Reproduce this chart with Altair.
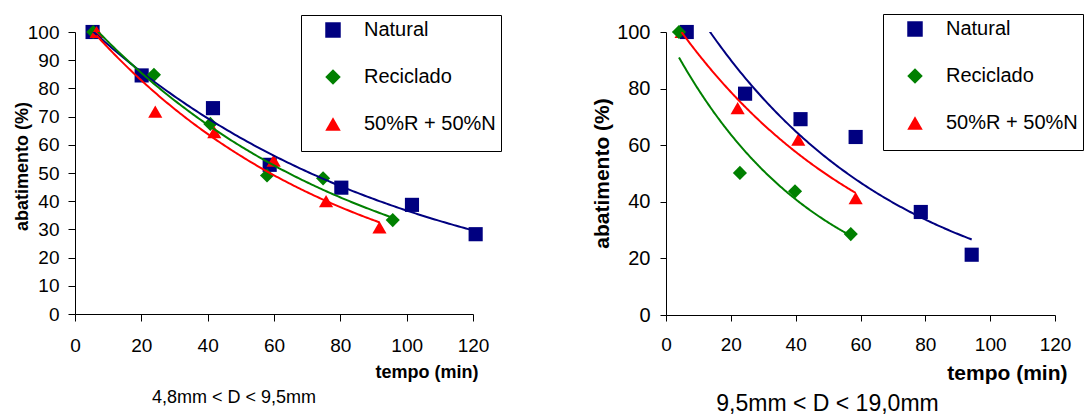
import numpy as np
import pandas as pd
import altair as alt

SERIES = ["Natural", "Reciclado", "50%R + 50%N"]
COLORS = ["#000080", "#008000", "#FF0000"]
SHAPES = ["square", "diamond", "triangle-up"]
X_TICKS = [0, 20, 40, 60, 80, 100, 120]
Y_TICKS_LEFT = [0, 10, 20, 30, 40, 50, 60, 70, 80, 90, 100]
Y_TICKS_RIGHT = [0, 20, 40, 60, 80, 100]
CAPTION_LEFT = "4,8mm < D < 9,5mm"
CAPTION_RIGHT = "9,5mm < D < 19,0mm"

# Left panel (4,8mm < D < 9,5mm)
L_NAT_T = [5.3, 20.1, 41.6, 58.7, 80.3, 101.6, 120.8]
L_NAT_A = [100, 84.6, 73.0, 52.9, 44.8, 38.7, 28.3]
L_REC_T = [5.5, 23.8, 40.8, 57.9, 74.8, 95.8]
L_REC_A = [100, 84.8, 67.4, 49.1, 48.1, 33.3]
L_MIX_T = [6.5, 24.2, 42.0, 59.9, 75.7, 91.8]
L_MIX_A = [100, 71.8, 64.5, 54.4, 40.0, 30.7]

# Right panel (9,5mm < D < 19,0mm)
R_NAT_T = [6.4, 24.4, 41.5, 58.5, 78.6, 94.3]
R_NAT_A = [100, 78.2, 69.2, 62.9, 36.4, 21.3]
R_REC_T = [4.0, 22.8, 39.8, 57.0]
R_REC_A = [100, 50.2, 43.7, 28.6]
R_MIX_T = [4.8, 22.1, 40.8, 58.5]
R_MIX_A = [100, 73.1, 62.0, 41.3]

FONT = "Liberation Sans, Arial, sans-serif"


def build_frames(groups):
    pts, crv = [], []
    for name, t, a in groups:
        for ti, ai in zip(t, a):
            pts.append({"serie": name, "t": ti, "a": ai})
        # Excel-style exponential trendline (least squares on ln(a))
        b, c = np.polyfit(np.array(t, float), np.log(np.array(a, float)), 1)
        for x in np.linspace(min(t), max(t), 160):
            crv.append({"serie": name, "t": float(x), "a": float(np.exp(c + b * x))})
    return pd.DataFrame(pts), pd.DataFrame(crv)


def panel(groups, y_ticks, s):
    pts, crv = build_frames(groups)
    xs = alt.Scale(domain=[0, 120], nice=False)
    ys = alt.Scale(domain=[0, 100], nice=False)
    xaxis = alt.Axis(values=X_TICKS, title="tempo (min)", grid=False,
                     labelFontSize=s["xlab"], titleFontSize=s["title"],
                     tickSize=s["tick"], labelPadding=s["xpad"],
                     labelFlush=False, labelOverlap=False,
                     titleAlign="right", titleBaseline="alphabetic",
                     titleX=s["w"] + s["xtx"], titleY=s["xty"],
                     labelFont=FONT, titleFont=FONT, titleFontWeight="bold",
                     domainColor="black", tickColor="black",
                     labelColor="black", titleColor="black")
    yaxis = alt.Axis(values=y_ticks, tickCount=len(y_ticks), title="abatimento (%)",
                     grid=False,
                     labelFontSize=s["ylab"], titleFontSize=s["title"],
                     tickSize=s["tick"], labelPadding=s["ypad"],
                     labelOverlap=False,
                     titleAlign="center", titleBaseline="middle", titleAngle=270,
                     titleX=s["ytx"], titleY=s["yty"],
                     labelFont=FONT, titleFont=FONT, titleFontWeight="bold",
                     domainColor="black", tickColor="black",
                     labelColor="black", titleColor="black")
    legend = alt.Legend(orient="none", legendX=s["lx"], legendY=s["ly"], title=" ",
                        titleOrient="bottom", titleFontSize=12, titlePadding=1,
                        padding=5, symbolOffset=17, labelOffset=21, rowPadding=27,
                        symbolSize=240, symbolStrokeWidth=0,
                        labelFontSize=20, labelFont=FONT, labelColor="black",
                        strokeColor="black", fillColor="white")
    order = s["order"]
    pts["o"] = pts["serie"].map({k: i for i, k in enumerate(order)})
    pts = pts.sort_values("o", kind="stable")
    points = alt.Chart(pts).mark_point(filled=True, opacity=1, size=200).encode(
        x=alt.X("t:Q", scale=xs, axis=xaxis),
        y=alt.Y("a:Q", scale=ys, axis=yaxis),
        color=alt.Color("serie:N", scale=alt.Scale(domain=SERIES, range=COLORS),
                        legend=legend, sort=SERIES),
        shape=alt.Shape("serie:N", scale=alt.Scale(domain=SERIES, range=SHAPES),
                        legend=legend, sort=SERIES),
    )
    lines = alt.Chart(crv).mark_line(clip=True, strokeWidth=2).encode(
        x=alt.X("t:Q", scale=xs, axis=xaxis),
        y=alt.Y("a:Q", scale=ys, axis=yaxis),
        stroke=alt.Stroke("serie:N", scale=alt.Scale(domain=SERIES, range=COLORS),
                          legend=None),
    )
    return alt.layer(points, lines).properties(
        width=s["w"], height=s["h"],
        title=alt.TitleParams(s["caption"], orient="bottom", anchor="middle",
                              dx=s["cdx"], offset=s["coff"], fontSize=s["cfs"],
                              font=FONT, fontWeight="normal", color="black"),
    )


left = panel(
    [("Natural", L_NAT_T, L_NAT_A), ("Reciclado", L_REC_T, L_REC_A),
     ("50%R + 50%N", L_MIX_T, L_MIX_A)],
    Y_TICKS_LEFT,
    dict(w=398, h=282, xlab=19, ylab=19, title=18, tick=7, xpad=15, ypad=9,
         xtx=5, xty=63, ytx=-53, yty=134, lx=226, ly=-17,
         caption=CAPTION_LEFT, cdx=-40, coff=8, cfs=18,
         order=["Natural", "Reciclado", "50%R + 50%N"]),
)
right = panel(
    [("Natural", R_NAT_T, R_NAT_A), ("Reciclado", R_REC_T, R_REC_A),
     ("50%R + 50%N", R_MIX_T, R_MIX_A)],
    Y_TICKS_RIGHT,
    dict(w=389, h=283, xlab=19, ylab=20, title=21, tick=6, xpad=14, ypad=10,
         xtx=12, xty=64, ytx=-64, yty=141, lx=217, ly=-18,
         caption=CAPTION_RIGHT, cdx=-33, coff=10, cfs=23,
         order=["50%R + 50%N", "Natural", "Reciclado"]),
)

chart = alt.hconcat(left, right, spacing=193, bounds="flush").resolve_scale(
    x="independent", y="independent", color="independent", shape="independent",
    stroke="independent",
).resolve_legend(color="independent", shape="independent").properties(
    padding={"left": 13, "top": 13, "right": 2, "bottom": 2},
    background="white",
).configure_axis(labelFontSize=19, labelFont=FONT, labelColor="black").configure_view(
    strokeWidth=0
)

chart.save("out.html", embed_options={"renderer": "svg", "actions": False})
